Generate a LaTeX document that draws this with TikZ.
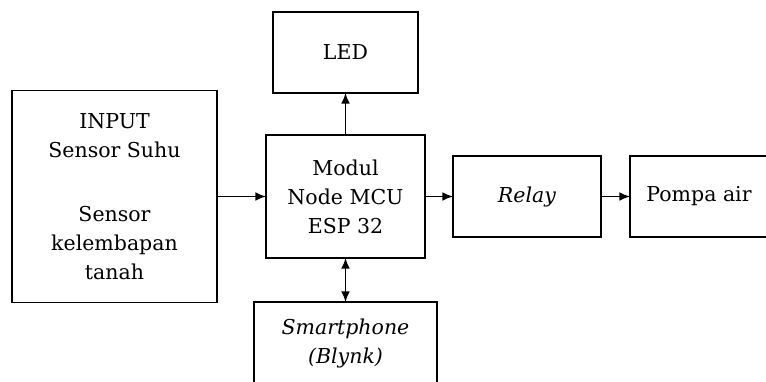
\documentclass[tikz,border=0pt]{standalone}
\usepackage{fontspec}
\setmainfont{DejaVu Serif}
\usepackage{tikz}
\usetikzlibrary{arrows.meta, positioning}

\begin{document}
\begin{tikzpicture}[
    blok/.style={rectangle, draw, line width=1.4pt, inner sep=0pt, outer sep=0pt, align=center, fill=white, font=\fontsize{17.5}{24.8}\selectfont},
    arrow/.style={line width=1.4pt, -{Latex[length=9pt,width=7.5pt]}},
    dblarrow/.style={line width=1.4pt, {Latex[length=9pt,width=7.5pt]}-{Latex[length=9pt,width=7.5pt]}}
]
    \useasboundingbox (0,0) rectangle (22.98,-11.43);
    \node[blok, minimum width=4.77cm, minimum height=3.69cm] (modul) at (10.365,-5.895) {Modul\\Node MCU\\ESP 32};
    \node[blok, minimum width=4.35cm, minimum height=2.43cm, above=1.26cm of modul] (led) {LED};
    \node[blok, minimum width=6.15cm, minimum height=6.36cm, left=1.47cm of modul] (input) {INPUT\\Sensor Suhu\\[30pt]Sensor\\kelembapan\\tanah};
    \node[blok, minimum width=4.44cm, minimum height=2.43cm, right=0.84cm of modul] (relay) {\textit{Relay}};
    \node[blok, minimum width=4.14cm, minimum height=2.43cm, right=0.87cm of relay] (pompa) {Pompa air};
    \node[blok, minimum width=5.49cm, minimum height=2.49cm, below=1.32cm of modul] (hp) {\textit{Smartphone}\\\textit{(Blynk)}};

    \draw[arrow] (input) -- (modul);
    \draw[arrow] (modul) -- (led);
    \draw[arrow] (modul) -- (relay);
    \draw[arrow] (relay) -- (pompa);
    \draw[dblarrow] (modul) -- (hp);
\end{tikzpicture}
\end{document}
